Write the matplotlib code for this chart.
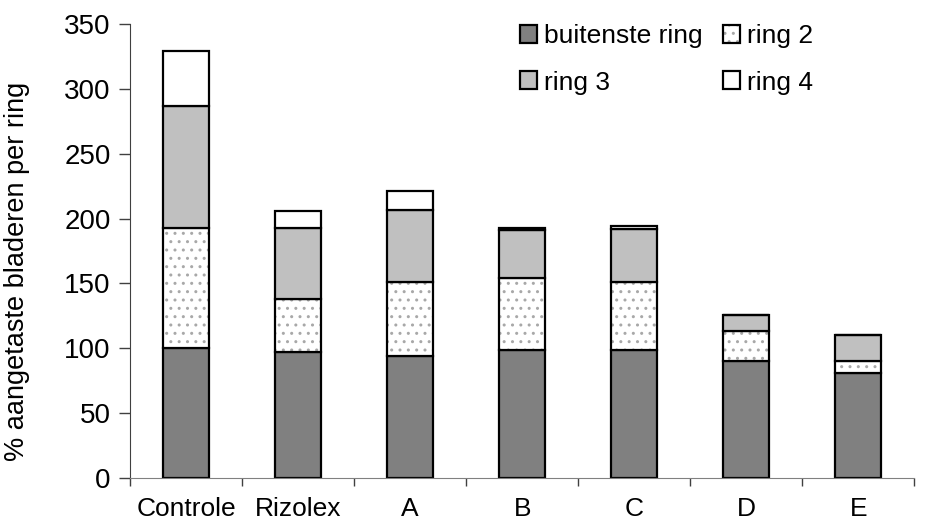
import numpy as np
import matplotlib.pyplot as plt

plt.rcParams['font.family'] = ['Liberation Sans', 'DejaVu Sans']

# DATA
categories = ['Controle', 'Rizolex', 'A', 'B', 'C', 'D', 'E']
buitenste = [100, 97, 94, 99, 99, 90, 81]
ring2 = [93, 41, 57, 55, 52, 23, 9]
ring3 = [94, 55, 56, 37, 41, 13, 20]
ring4 = [42, 13, 14, 2, 2, 0, 0]

fig = plt.figure(figsize=(9.25, 5.29), dpi=100)
ax = fig.add_axes([0.1405, 0.0964, 0.848, 0.858])

x = np.arange(len(categories))
w = 0.41
b1 = np.array(buitenste)
b2 = b1 + np.array(ring2)
b3 = b2 + np.array(ring3)

# buitenste ring
h1 = ax.bar(x, buitenste, w, color='#808080', edgecolor='black', linewidth=1.6)
# ring 2: dotted fill, then black outline
hh = ax.bar(x, ring2, w, bottom=b1, color='white', hatch='..', edgecolor='#a8a8a8', linewidth=0)
h2 = ax.bar(x, ring2, w, bottom=b1, fill=False, edgecolor='black', linewidth=1.6)
h3 = ax.bar(x, ring3, w, bottom=b2, color='#c0c0c0', edgecolor='black', linewidth=1.6)
h4 = ax.bar(x, ring4, w, bottom=b3, color='white', edgecolor='black', linewidth=1.6)

ax.set_xlim(-0.5, len(categories) - 0.5)
ax.set_ylim(0, 350)
ax.set_yticks(np.arange(0, 351, 50))
ax.set_xticks(x)
ax.set_xticklabels(categories)
ax.set_xticks(np.arange(-0.5, len(categories), 1), minor=True)
ax.tick_params(axis='x', which='major', length=0, pad=14, labelsize=19)
ax.tick_params(axis='x', which='minor', length=6, width=1, color='#404040')
ax.tick_params(axis='y', length=8, width=1, color='#404040', labelsize=20, pad=6)

for s in ['top', 'right']:
    ax.spines[s].set_visible(False)
ax.spines['left'].set_color('#404040')
ax.spines['bottom'].set_color('#808080')

ax.set_ylabel('% aangetaste bladeren per ring', fontsize=19.5)
ax.yaxis.set_label_coords(-0.128, 0.456)

# matplotlib fills legend columns first, so order for row-wise layout
ax.legend([h1[0], h3[0], (hh[0], h2[0]), h4[0]],
          ['buitenste ring', 'ring 3', 'ring 2', 'ring 4'],
          ncol=2, frameon=False, fontsize=19, loc='upper left',
          bbox_to_anchor=(0.497, 1.0), borderpad=0, borderaxespad=0,
          handlelength=0.65, handleheight=0.65,
          handletextpad=0.25, columnspacing=0.8, labelspacing=0.85)

fig.savefig('out.png', dpi=100)
